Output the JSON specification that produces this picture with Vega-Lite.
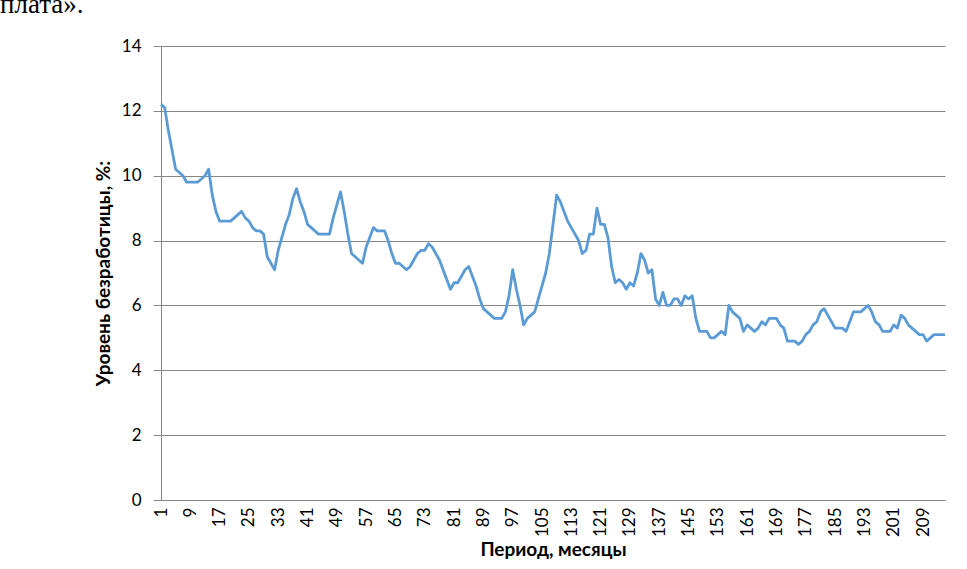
{
  "$schema": "https://vega.github.io/schema/vega-lite/v6.json",
  "autosize": "none",
  "width": 784,
  "height": 454,
  "padding": {"left": 161, "top": 46, "right": 22, "bottom": 69},
  "background": "white",
  "title": {
    "text": "плата».",
    "anchor": "start",
    "frame": "group",
    "orient": "top",
    "dx": -161,
    "dy": 3,
    "offset": 0,
    "baseline": "alphabetic",
    "font": "Liberation Serif",
    "fontSize": 27,
    "fontWeight": "normal",
    "color": "black"
  },
  "config": {
    "view": {"stroke": null},
    "axis": {
      "labelFont": "Lato",
      "labelFontSize": 17,
      "labelColor": "black",
      "titleFont": "Lato",
      "titleFontSize": 19,
      "titleFontWeight": "bold",
      "titleColor": "black",
      "domainColor": "#868686",
      "tickColor": "#868686",
      "gridColor": "#868686",
      "gridOpacity": 1
    }
  },
  "data": {
    "values": [
      {"month": 1, "rate": 12.2}, {"month": 2, "rate": 12.1}, {"month": 3, "rate": 11.4}, {"month": 4, "rate": 10.8},
      {"month": 5, "rate": 10.2}, {"month": 6, "rate": 10.1}, {"month": 7, "rate": 10.0}, {"month": 8, "rate": 9.8},
      {"month": 9, "rate": 9.8}, {"month": 10, "rate": 9.8}, {"month": 11, "rate": 9.8}, {"month": 12, "rate": 9.9},
      {"month": 13, "rate": 10.0}, {"month": 14, "rate": 10.2}, {"month": 15, "rate": 9.4}, {"month": 16, "rate": 8.9},
      {"month": 17, "rate": 8.6}, {"month": 18, "rate": 8.6}, {"month": 19, "rate": 8.6}, {"month": 20, "rate": 8.6},
      {"month": 21, "rate": 8.7}, {"month": 22, "rate": 8.8}, {"month": 23, "rate": 8.9}, {"month": 24, "rate": 8.7},
      {"month": 25, "rate": 8.6}, {"month": 26, "rate": 8.4}, {"month": 27, "rate": 8.3}, {"month": 28, "rate": 8.3},
      {"month": 29, "rate": 8.2}, {"month": 30, "rate": 7.5}, {"month": 31, "rate": 7.3}, {"month": 32, "rate": 7.1},
      {"month": 33, "rate": 7.7}, {"month": 34, "rate": 8.1}, {"month": 35, "rate": 8.5}, {"month": 36, "rate": 8.8},
      {"month": 37, "rate": 9.3}, {"month": 38, "rate": 9.6}, {"month": 39, "rate": 9.2}, {"month": 40, "rate": 8.9},
      {"month": 41, "rate": 8.5}, {"month": 42, "rate": 8.4}, {"month": 43, "rate": 8.3}, {"month": 44, "rate": 8.2},
      {"month": 45, "rate": 8.2}, {"month": 46, "rate": 8.2}, {"month": 47, "rate": 8.2}, {"month": 48, "rate": 8.7},
      {"month": 49, "rate": 9.1}, {"month": 50, "rate": 9.5}, {"month": 51, "rate": 8.9}, {"month": 52, "rate": 8.2},
      {"month": 53, "rate": 7.6}, {"month": 54, "rate": 7.5}, {"month": 55, "rate": 7.4}, {"month": 56, "rate": 7.3},
      {"month": 57, "rate": 7.8}, {"month": 58, "rate": 8.1}, {"month": 59, "rate": 8.4}, {"month": 60, "rate": 8.3},
      {"month": 61, "rate": 8.3}, {"month": 62, "rate": 8.3}, {"month": 63, "rate": 8.0}, {"month": 64, "rate": 7.6},
      {"month": 65, "rate": 7.3}, {"month": 66, "rate": 7.3}, {"month": 67, "rate": 7.2}, {"month": 68, "rate": 7.1},
      {"month": 69, "rate": 7.2}, {"month": 70, "rate": 7.4}, {"month": 71, "rate": 7.6}, {"month": 72, "rate": 7.7},
      {"month": 73, "rate": 7.7}, {"month": 74, "rate": 7.9}, {"month": 75, "rate": 7.8}, {"month": 76, "rate": 7.6},
      {"month": 77, "rate": 7.4}, {"month": 78, "rate": 7.1}, {"month": 79, "rate": 6.8}, {"month": 80, "rate": 6.5},
      {"month": 81, "rate": 6.7}, {"month": 82, "rate": 6.7}, {"month": 83, "rate": 6.9}, {"month": 84, "rate": 7.1},
      {"month": 85, "rate": 7.2}, {"month": 86, "rate": 6.9}, {"month": 87, "rate": 6.6}, {"month": 88, "rate": 6.2},
      {"month": 89, "rate": 5.9}, {"month": 90, "rate": 5.8}, {"month": 91, "rate": 5.7}, {"month": 92, "rate": 5.6},
      {"month": 93, "rate": 5.6}, {"month": 94, "rate": 5.6}, {"month": 95, "rate": 5.8}, {"month": 96, "rate": 6.3},
      {"month": 97, "rate": 7.1}, {"month": 98, "rate": 6.5}, {"month": 99, "rate": 6.0}, {"month": 100, "rate": 5.4},
      {"month": 101, "rate": 5.6}, {"month": 102, "rate": 5.7}, {"month": 103, "rate": 5.8}, {"month": 104, "rate": 6.2},
      {"month": 105, "rate": 6.6}, {"month": 106, "rate": 7.0}, {"month": 107, "rate": 7.6}, {"month": 108, "rate": 8.5},
      {"month": 109, "rate": 9.4}, {"month": 110, "rate": 9.2}, {"month": 111, "rate": 8.9}, {"month": 112, "rate": 8.6},
      {"month": 113, "rate": 8.4}, {"month": 114, "rate": 8.2}, {"month": 115, "rate": 8.0}, {"month": 116, "rate": 7.6},
      {"month": 117, "rate": 7.7}, {"month": 118, "rate": 8.2}, {"month": 119, "rate": 8.2}, {"month": 120, "rate": 9.0},
      {"month": 121, "rate": 8.5}, {"month": 122, "rate": 8.5}, {"month": 123, "rate": 8.1}, {"month": 124, "rate": 7.2},
      {"month": 125, "rate": 6.7}, {"month": 126, "rate": 6.8}, {"month": 127, "rate": 6.7}, {"month": 128, "rate": 6.5},
      {"month": 129, "rate": 6.7}, {"month": 130, "rate": 6.6}, {"month": 131, "rate": 7.0}, {"month": 132, "rate": 7.6},
      {"month": 133, "rate": 7.4}, {"month": 134, "rate": 7.0}, {"month": 135, "rate": 7.1}, {"month": 136, "rate": 6.2},
      {"month": 137, "rate": 6.0}, {"month": 138, "rate": 6.4}, {"month": 139, "rate": 6.0}, {"month": 140, "rate": 6.0},
      {"month": 141, "rate": 6.2}, {"month": 142, "rate": 6.2}, {"month": 143, "rate": 6.0}, {"month": 144, "rate": 6.3},
      {"month": 145, "rate": 6.2}, {"month": 146, "rate": 6.3}, {"month": 147, "rate": 5.6}, {"month": 148, "rate": 5.2},
      {"month": 149, "rate": 5.2}, {"month": 150, "rate": 5.2}, {"month": 151, "rate": 5.0}, {"month": 152, "rate": 5.0},
      {"month": 153, "rate": 5.1}, {"month": 154, "rate": 5.2}, {"month": 155, "rate": 5.1}, {"month": 156, "rate": 6.0},
      {"month": 157, "rate": 5.8}, {"month": 158, "rate": 5.7}, {"month": 159, "rate": 5.6}, {"month": 160, "rate": 5.2},
      {"month": 161, "rate": 5.4}, {"month": 162, "rate": 5.3}, {"month": 163, "rate": 5.2}, {"month": 164, "rate": 5.3},
      {"month": 165, "rate": 5.5}, {"month": 166, "rate": 5.4}, {"month": 167, "rate": 5.6}, {"month": 168, "rate": 5.6},
      {"month": 169, "rate": 5.6}, {"month": 170, "rate": 5.4}, {"month": 171, "rate": 5.3}, {"month": 172, "rate": 4.9},
      {"month": 173, "rate": 4.9}, {"month": 174, "rate": 4.9}, {"month": 175, "rate": 4.8}, {"month": 176, "rate": 4.9},
      {"month": 177, "rate": 5.1}, {"month": 178, "rate": 5.2}, {"month": 179, "rate": 5.4}, {"month": 180, "rate": 5.5},
      {"month": 181, "rate": 5.8}, {"month": 182, "rate": 5.9}, {"month": 183, "rate": 5.7}, {"month": 184, "rate": 5.5},
      {"month": 185, "rate": 5.3}, {"month": 186, "rate": 5.3}, {"month": 187, "rate": 5.3}, {"month": 188, "rate": 5.2},
      {"month": 189, "rate": 5.5}, {"month": 190, "rate": 5.8}, {"month": 191, "rate": 5.8}, {"month": 192, "rate": 5.8},
      {"month": 193, "rate": 5.9}, {"month": 194, "rate": 6.0}, {"month": 195, "rate": 5.8}, {"month": 196, "rate": 5.5},
      {"month": 197, "rate": 5.4}, {"month": 198, "rate": 5.2}, {"month": 199, "rate": 5.2}, {"month": 200, "rate": 5.2},
      {"month": 201, "rate": 5.4}, {"month": 202, "rate": 5.3}, {"month": 203, "rate": 5.7}, {"month": 204, "rate": 5.6},
      {"month": 205, "rate": 5.4}, {"month": 206, "rate": 5.3}, {"month": 207, "rate": 5.2}, {"month": 208, "rate": 5.1},
      {"month": 209, "rate": 5.1}, {"month": 210, "rate": 4.9}, {"month": 211, "rate": 5.0}, {"month": 212, "rate": 5.1},
      {"month": 213, "rate": 5.1}, {"month": 214, "rate": 5.1}, {"month": 215, "rate": 5.1}
    ]
  },
  "mark": {"type": "line", "color": "#5B9BD5", "strokeWidth": 2.8, "strokeJoin": "round"},
  "encoding": {
    "x": {
      "field": "month",
      "type": "quantitative",
      "scale": {"domain": [1, 215], "nice": false, "zero": false},
      "axis": {
        "title": "Период, месяцы",
        "values": [1, 9, 17, 25, 33, 41, 49, 57, 65, 73, 81, 89, 97, 105, 113, 121, 129, 137, 145, 153, 161, 169, 177, 185, 193, 201, 209],
        "labelAngle": -90,
        "labelAlign": "right",
        "labelBaseline": "middle",
        "labelPadding": 7,
        "labelOverlap": false,
        "labelFlush": false,
        "ticks": false,
        "grid": false,
        "titlePadding": 4
      }
    },
    "y": {
      "field": "rate",
      "type": "quantitative",
      "scale": {"domain": [0, 14], "nice": false},
      "axis": {
        "title": "Уровень безработицы, %:",
        "values": [0, 2, 4, 6, 8, 10, 12, 14],
        "tickSize": 8,
        "labelPadding": 12,
        "titlePadding": 8
      }
    }
  }
}
